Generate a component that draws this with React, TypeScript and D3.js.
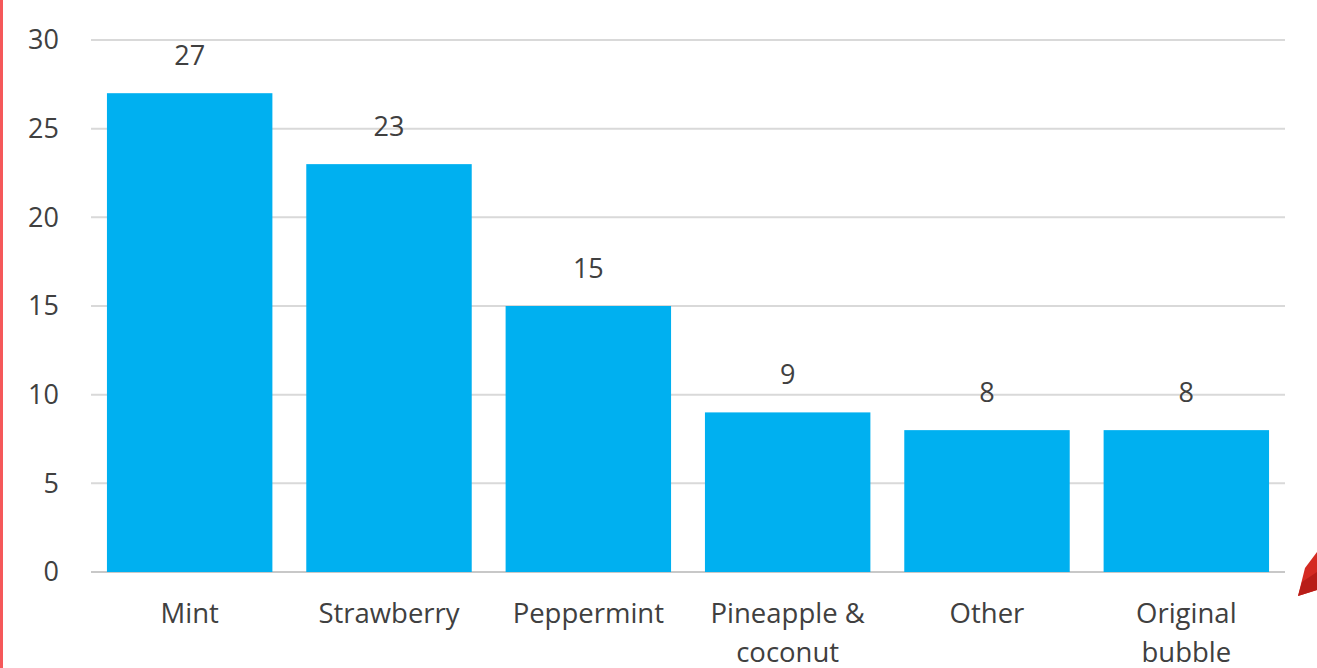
import React from "react";
import * as d3 from "d3";

const categories: string[][] = [
  ["Mint"],
  ["Strawberry"],
  ["Peppermint"],
  ["Pineapple &", "coconut"],
  ["Other"],
  ["Original", "bubble"],
];
const values: number[] = [27, 23, 15, 9, 8, 8];
const yTicks: number[] = [0, 5, 10, 15, 20, 25, 30];

const W = 1317;
const H = 668;
const left = 91;
const right = 1285;
const top = 40;
const bottom = 572;
const font = "'Open Sans', Calibri, sans-serif";
const textColor = "#404040";

export default function App() {
  const keys = categories.map((c) => c.join(" "));
  const x = d3
    .scaleBand<string>()
    .domain(keys)
    .range([left, right])
    .paddingInner(0.17)
    .paddingOuter(0.08);
  const y = d3.scaleLinear().domain([0, 30]).range([bottom, top]);

  return (
    <svg
      width={W}
      height={H}
      style={{ position: "fixed", left: 0, top: 0, background: "#fff" }}
    >
      <rect x={0} y={0} width={W} height={H} fill="#ffffff" />
      <rect x={0} y={0} width={3} height={H} fill="#f5585a" />
      {yTicks.map((t) => (
        <g key={t}>
          <line
            x1={left}
            x2={right}
            y1={y(t)}
            y2={y(t)}
            stroke={t === 0 ? "#c8c8c8" : "#d9d9d9"}
            strokeWidth={2}
          />
          <text
            x={59}
            y={y(t)}
            dy="0.35em"
            textAnchor="end"
            fontFamily={font}
            fontSize={27}
            fill={textColor}
          >
            {t}
          </text>
        </g>
      ))}
      {values.map((v, i) => {
        const k = keys[i];
        const bx = x(k)!;
        const cx = bx + x.bandwidth() / 2;
        return (
          <g key={k}>
            <rect
              x={bx}
              y={y(v)}
              width={x.bandwidth()}
              height={y(0) - y(v)}
              fill="#00b0f0"
            />
            <text
              x={cx}
              y={y(v) - 28}
              textAnchor="middle"
              fontFamily={font}
              fontSize={27}
              fill={textColor}
            >
              {v}
            </text>
            {categories[i].map((line, j) => (
              <text
                key={j}
                x={cx}
                y={623 + j * 39}
                textAnchor="middle"
                fontFamily={font}
                fontSize={27.5}
                fill={textColor}
              >
                {line}
              </text>
            ))}
          </g>
        );
      })}
      <polygon points="1317,552 1305,568 1298,596 1317,590" fill="#d42a22" />
      <polygon points="1317,572 1302,582 1298,596 1317,590" fill="#b81d18" />
    </svg>
  );
}
